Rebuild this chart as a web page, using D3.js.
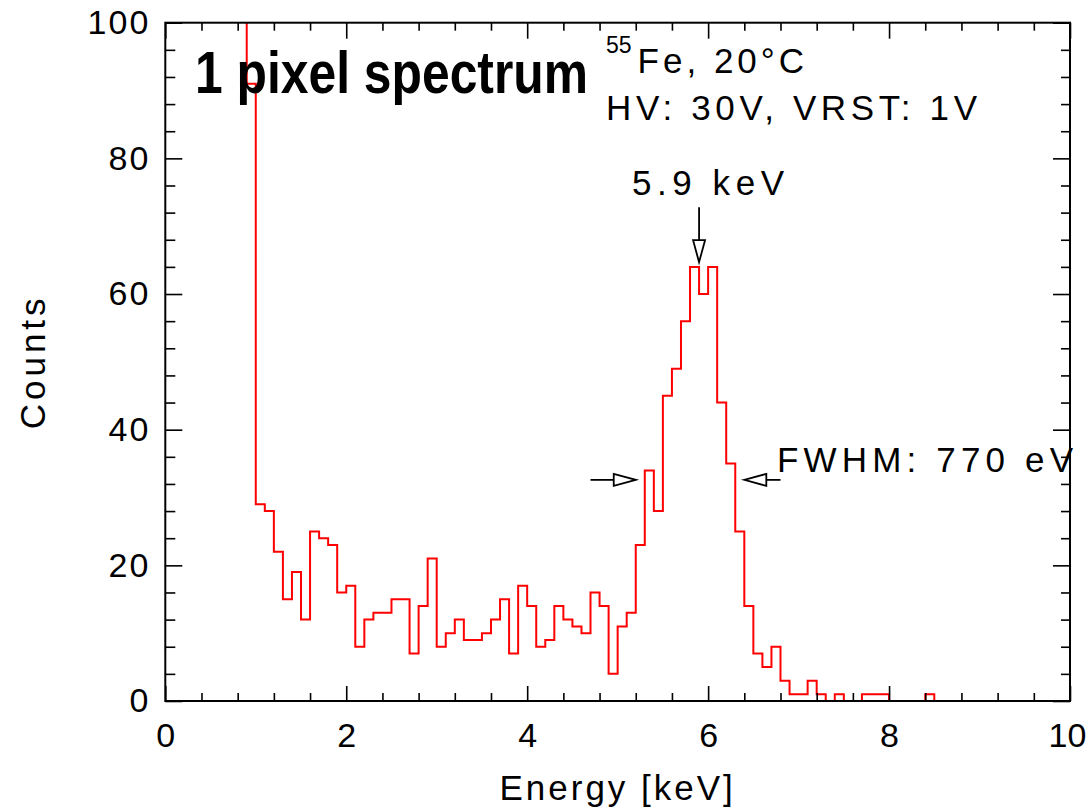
<!DOCTYPE html>
<html>
<head>
<meta charset="utf-8">
<script src="https://cdn.jsdelivr.net/npm/d3@7"></script>
<style>
  body { margin: 0; background: #fff; }
  svg text { font-family: "Liberation Sans", Arial, sans-serif; fill: #000; }
</style>
</head>
<body>
<div class="myChart"></div>
<script>
// histogram bins (lower edge, keV) and counts; first bin is off scale
const binLo = [0.8, 0.9, 1.0, 1.1, 1.2, 1.3, 1.4, 1.5, 1.6, 1.7, 1.8, 1.9,
  2.0, 2.1, 2.2, 2.3, 2.4, 2.5, 2.6, 2.7, 2.8, 2.9,
  3.0, 3.1, 3.2, 3.3, 3.4, 3.5, 3.6, 3.7, 3.8, 3.9,
  4.0, 4.1, 4.2, 4.3, 4.4, 4.5, 4.6, 4.7, 4.8, 4.9,
  5.0, 5.1, 5.2, 5.3, 5.4, 5.5, 5.6, 5.7, 5.8, 5.9,
  6.0, 6.1, 6.2, 6.3, 6.4, 6.5, 6.6, 6.7, 6.8, 6.9,
  7.0, 7.1, 7.2, 7.3, 7.4, 7.5, 7.6, 7.7, 7.8, 7.9,
  8.0, 8.1, 8.2, 8.3, 8.4, 8.5, 8.6, 8.7, 8.8, 8.9,
  9.0, 9.1, 9.2, 9.3, 9.4, 9.5, 9.6, 9.7, 9.8, 9.9];
const counts = [120, 91, 29, 28, 22, 15, 19, 12, 25, 24, 23, 16,
  17, 8, 12, 13, 13, 15, 15, 7, 14, 21,
  8, 10, 12, 9, 9, 10, 12, 15, 7, 17,
  14, 8, 9, 14, 12, 11, 10, 16, 14, 4,
  11, 13, 23, 34, 28, 45, 49, 56, 64, 60,
  64, 44, 35, 25, 14, 7, 5, 8, 3, 1,
  1, 3, 1, 0, 1, 0, 0, 1, 1, 1,
  0, 0, 0, 0, 1, 0, 0, 0, 0, 0,
  0, 0, 0, 0, 0, 0, 0, 0, 0, 0];
const binWidth = 0.1;

const xTicks = [0, 2, 4, 6, 8, 10];
const xMinor = [0.4, 0.8, 1.2, 1.6, 2.4, 2.8, 3.2, 3.6, 4.4, 4.8, 5.2, 5.6,
  6.4, 6.8, 7.2, 7.6, 8.4, 8.8, 9.2, 9.6];
const yTicks = [0, 20, 40, 60, 80, 100];
const yMinor = [4, 8, 12, 16, 24, 28, 32, 36, 44, 48, 52, 56, 64, 68, 72, 76,
  84, 88, 92, 96];

const W = 1090, H = 809;
const svg = d3.select(".myChart").append("svg").attr("width", W).attr("height", H);

const x = d3.scaleLinear().domain([0, 10]).range([165.3, 1070]);
const y = d3.scaleLinear().domain([0, 100]).range([701, 22.7]);

svg.append("clipPath").attr("id", "plotclip")
  .append("rect")
  .attr("x", x(0)).attr("y", y(100))
  .attr("width", x(10) - x(0)).attr("height", y(0) - y(100));

// histogram as a step line
const pts = binLo.map((e, i) => [e, counts[i]]);
pts.push([binLo[binLo.length - 1] + binWidth, counts[counts.length - 1]]);
const line = d3.line().x(d => x(d[0])).y(d => y(d[1])).curve(d3.curveStepAfter);

svg.append("path")
  .datum(pts)
  .attr("clip-path", "url(#plotclip)")
  .attr("d", line)
  .attr("fill", "none")
  .attr("stroke", "#ff0000")
  .attr("stroke-width", 2);

// ticks on all four sides, pointing inward
function tickGroup(axis, transform) {
  const g = svg.append("g").attr("transform", transform).call(axis);
  g.select(".domain").remove();
  g.selectAll(".tick line").attr("stroke", "#000").attr("stroke-width", 1.6);
  return g;
}
tickGroup(d3.axisBottom(x).tickValues(xMinor).tickSize(-8).tickFormat(""), `translate(0,${y(0)})`);
tickGroup(d3.axisTop(x).tickValues(xMinor).tickSize(-8).tickFormat(""), `translate(0,${y(100)})`);
tickGroup(d3.axisTop(x).tickValues(xTicks).tickSize(-16).tickFormat(""), `translate(0,${y(100)})`);
const gx = tickGroup(d3.axisBottom(x).tickValues(xTicks).tickSize(-15).tickPadding(22).tickFormat(d3.format("d")),
  `translate(0,${y(0)})`);

tickGroup(d3.axisLeft(y).tickValues(yMinor).tickSize(-10).tickFormat(""), `translate(${x(0)},0)`);
tickGroup(d3.axisRight(y).tickValues(yMinor).tickSize(-9).tickFormat(""), `translate(${x(10)},0)`);
tickGroup(d3.axisRight(y).tickValues(yTicks).tickSize(-17).tickFormat(""), `translate(${x(10)},0)`);
const gy = tickGroup(d3.axisLeft(y).tickValues(yTicks).tickSize(-17).tickPadding(15).tickFormat(d3.format("d")),
  `translate(${x(0)},0)`);

[gx, gy].forEach(g => g.selectAll("text")
  .attr("fill", "#000")
  .style("font-family", '"Liberation Sans", Arial, sans-serif')
  .style("font-size", "34px"));
gy.selectAll("text").style("letter-spacing", "2px");
gx.selectAll("text").attr("x", d => d === 10 ? -3 : 0);

// frame
svg.append("rect")
  .attr("x", x(0)).attr("y", y(100))
  .attr("width", x(10) - x(0)).attr("height", y(0) - y(100))
  .attr("fill", "none").attr("stroke", "#000").attr("stroke-width", 2);

// axis titles
svg.append("text")
  .attr("x", (x(0) + x(10)) / 2).attr("y", 800)
  .attr("text-anchor", "middle")
  .style("font-size", "35px").style("letter-spacing", "3px")
  .text("Energy [keV]");

svg.append("text")
  .attr("transform", `translate(45,${(y(0) + y(100)) / 2}) rotate(-90)`)
  .attr("text-anchor", "middle")
  .style("font-size", "35px").style("letter-spacing", "4px")
  .text("Counts");

// annotations
svg.append("text")
  .attr("x", 195).attr("y", 93)
  .attr("textLength", 393).attr("lengthAdjust", "spacingAndGlyphs")
  .style("font-family", '"Liberation Sans Narrow", "Liberation Sans", Arial, sans-serif')
  .style("font-weight", "bold").style("font-size", "60px")
  .text("1 pixel spectrum");

const iso = svg.append("text").attr("x", 606).attr("y", 73).style("font-size", "35px");
iso.append("tspan").attr("dy", -20).style("font-size", "23px").text("55");
iso.append("tspan").attr("dy", 20).attr("dx", 6).style("letter-spacing", "4px").text("Fe, 20°C");

const notes = [
  {t: "HV: 30V, VRST: 1V", x: 606, y: 120, len: 371},
  {t: "5.9 keV", x: 632, y: 195, len: 152},
  {t: "FWHM: 770 eV", x: 777, y: 472, len: 296}
];
svg.selectAll(".note").data(notes).enter().append("text")
  .attr("class", "note")
  .attr("x", d => d.x).attr("y", d => d.y)
  .attr("textLength", d => d.len).attr("lengthAdjust", "spacing")
  .style("font-size", "35px")
  .text(d => d.t);

// arrows with open triangular heads
function arrow(x0, y0, x1, y1) {
  const dx = x1 - x0, dy = y1 - y0, L = Math.hypot(dx, dy);
  const ux = dx / L, uy = dy / L, hl = 22, hw = 6;
  const bx = x1 - ux * hl, by = y1 - uy * hl;
  svg.append("line")
    .attr("x1", x0).attr("y1", y0).attr("x2", bx).attr("y2", by)
    .attr("stroke", "#000").attr("stroke-width", 1.8);
  svg.append("path")
    .attr("d", `M${x1},${y1}L${bx - uy * hw},${by + ux * hw}L${bx + uy * hw},${by - ux * hw}Z`)
    .attr("fill", "#fff").attr("stroke", "#000").attr("stroke-width", 1.8);
}
arrow(x(5.9), y(72.8), x(5.9), y(64.7));
arrow(x(4.7), y(32.6), x(5.2), y(32.6));
arrow(x(6.8), y(32.6), x(6.4), y(32.6));
</script>
</body>
</html>
